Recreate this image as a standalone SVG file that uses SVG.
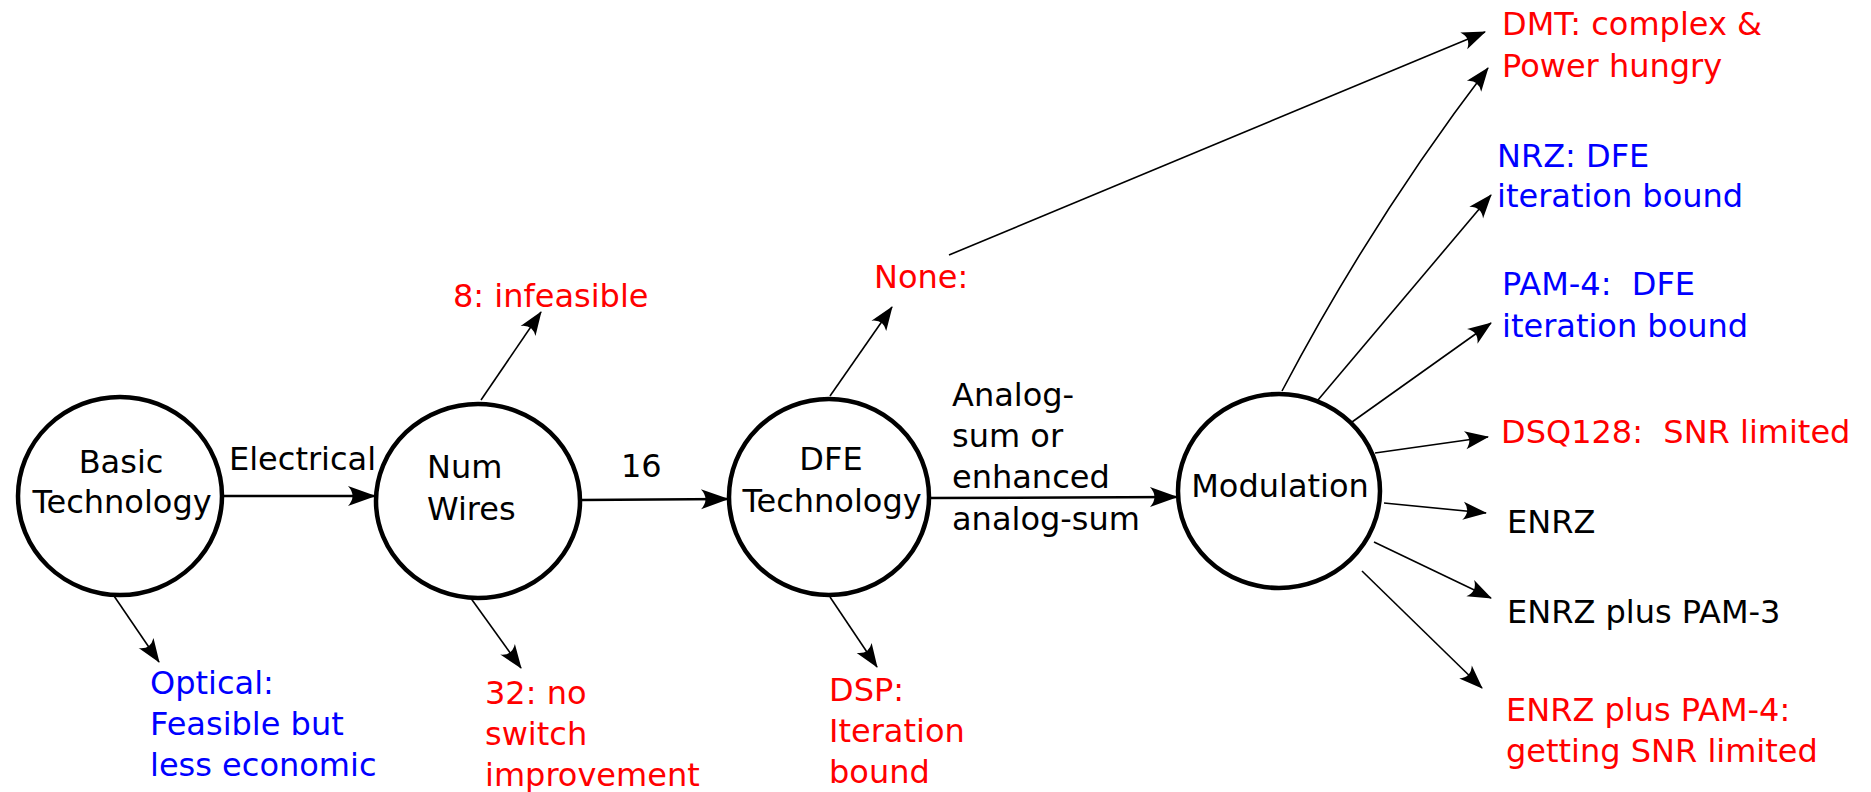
<svg xmlns="http://www.w3.org/2000/svg" width="1871" height="792" viewBox="0 0 1871 792">
<defs>
<style>
text{font-family:"DejaVu Sans","Verdana",sans-serif;font-size:32px;fill:#000}
.red{fill:#ff0000}
.blue{fill:#0000ff}
.node{fill:#fff;stroke:#000;stroke-width:4.5}
.main{fill:none;stroke:#000;stroke-width:2.5;marker-end:url(#big)}
.sub{fill:none;stroke:#000;stroke-width:1.6;marker-end:url(#small)}
.mid{text-anchor:middle}
</style>
<marker id="big" viewBox="-32 -12 34 24" refX="-1" refY="0" markerWidth="34" markerHeight="24" markerUnits="userSpaceOnUse" orient="auto">
<path d="M0,0 L-28,-10 Q-19,0 -28,10 Z" fill="#000"/>
</marker>
<marker id="small" viewBox="-30 -12 32 24" refX="-1" refY="0" markerWidth="32" markerHeight="24" markerUnits="userSpaceOnUse" orient="auto">
<path d="M0,0 L-24,-9 Q-16,0 -24,9 Z" fill="#000"/>
</marker>
</defs>
<rect width="1871" height="792" fill="#fff"/>

<g id="connectors">
<line class="main" x1="222" y1="496" x2="375" y2="496"/>
<line class="main" x1="581" y1="500" x2="728" y2="499"/>
<line class="main" x1="929" y1="498" x2="1177" y2="497"/>
<line class="sub" x1="112" y1="593" x2="159" y2="662"/>
<line class="sub" x1="481" y1="400" x2="541" y2="312"/>
<line class="sub" x1="470" y1="597" x2="521" y2="668"/>
<line class="sub" x1="830" y1="396" x2="892" y2="307"/>
<line class="sub" x1="830" y1="597" x2="877" y2="667"/>
<line class="sub" x1="949" y1="255" x2="1485" y2="32"/>
<path class="sub" d="M1282,391 Q1372,220 1488,68"/>
<line class="sub" x1="1318" y1="400" x2="1491" y2="195"/>
<line class="sub" x1="1352" y1="422" x2="1491" y2="323"/>
<line class="sub" x1="1375" y1="453" x2="1488" y2="437"/>
<line class="sub" x1="1384" y1="503" x2="1486" y2="513"/>
<line class="sub" x1="1374" y1="542" x2="1491" y2="598"/>
<line class="sub" x1="1362" y1="571" x2="1482" y2="688"/>
</g>

<g id="edge-labels">
<text x="229" y="470">Electrical</text>
<text x="621" y="477">16</text>
<text x="952" y="406">Analog-</text>
<text x="952" y="447">sum or</text>
<text x="952" y="488">enhanced</text>
<text x="952" y="530">analog-sum</text>
</g>

<g id="node-basic">
<ellipse class="node" cx="120" cy="496" rx="102" ry="99"/>
<text class="mid" x="121" y="473">Basic</text>
<text class="mid" x="122" y="513">Technology</text>
</g>
<g id="node-numwires">
<ellipse class="node" cx="478" cy="501" rx="102" ry="97"/>
<text x="427" y="478">Num</text>
<text x="427" y="520">Wires</text>
</g>
<g id="node-dfe">
<ellipse class="node" cx="829" cy="497" rx="100" ry="98"/>
<text class="mid" x="831" y="470">DFE</text>
<text class="mid" x="832" y="512">Technology</text>
</g>
<g id="node-modulation">
<ellipse class="node" cx="1279" cy="491" rx="101" ry="97"/>
<text class="mid" x="1280" y="497">Modulation</text>
</g>

<g id="outcome-optical">
<text class="blue" x="150" y="694">Optical:</text>
<text class="blue" x="150" y="735">Feasible but</text>
<text class="blue" x="150" y="776">less economic</text>
</g>
<g id="outcome-8">
<text class="red" x="453" y="307">8: infeasible</text>
</g>
<g id="outcome-32">
<text class="red" x="485" y="704">32: no</text>
<text class="red" x="485" y="745">switch</text>
<text class="red" x="485" y="786">improvement</text>
</g>
<g id="outcome-none">
<text class="red" x="874" y="288">None:</text>
</g>
<g id="outcome-dsp">
<text class="red" x="829" y="701">DSP:</text>
<text class="red" x="829" y="742">Iteration</text>
<text class="red" x="829" y="783">bound</text>
</g>
<g id="outcome-dmt">
<text class="red" x="1502" y="35">DMT: complex &amp;</text>
<text class="red" x="1502" y="77">Power hungry</text>
</g>
<g id="outcome-nrz">
<text class="blue" x="1497" y="167">NRZ: DFE</text>
<text class="blue" x="1497" y="207">iteration bound</text>
</g>
<g id="outcome-pam4">
<text class="blue" x="1502" y="295" xml:space="preserve">PAM-4:  DFE</text>
<text class="blue" x="1502" y="337">iteration bound</text>
</g>
<g id="outcome-dsq128">
<text class="red" x="1501" y="443" xml:space="preserve">DSQ128:  SNR limited</text>
</g>
<g id="outcome-enrz">
<text x="1507" y="533">ENRZ</text>
</g>
<g id="outcome-enrz-pam3">
<text x="1507" y="623">ENRZ plus PAM-3</text>
</g>
<g id="outcome-enrz-pam4">
<text class="red" x="1506" y="721">ENRZ plus PAM-4:</text>
<text class="red" x="1506" y="762">getting SNR limited</text>
</g>
</svg>
